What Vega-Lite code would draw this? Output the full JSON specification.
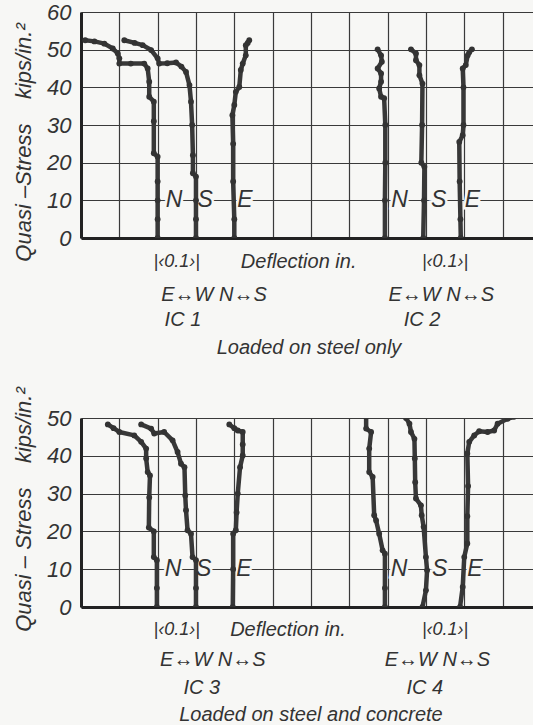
{
  "$schema": "https://vega.github.io/schema/vega-lite/v6.json",
  "background": "#f7f7f5",
  "padding": {"left": 11, "top": 1, "right": 0, "bottom": 0},
  "bounds": "flush",
  "spacing": 180,
  "config": {
    "view": {"stroke": null},
    "font": "Liberation Sans",
    "axis": {
      "gridColor": "#3a3a3a", "gridWidth": 1.2, "gridOpacity": 1,
      "domainColor": "#222", "domainWidth": 3, "ticks": false,
      "labelOverlap": false, "labelFlush": false, "labelBound": false,
      "labelFont": "Liberation Sans", "labelFontSize": 22, "labelFontStyle": "italic", "labelColor": "#333",
      "titleFont": "Liberation Sans", "titleFontSize": 22, "titleFontStyle": "italic", "titleFontWeight": "normal", "titleColor": "#333"
    },
    "axisY": {"labelOverlap": false},
    "axisLeft": {"labelOverlap": false},
    "axisQuantitative": {"labelOverlap": false}
  },
  "datasets": {
    "curves": [
      {"p":"top","c":"A","i":0,"d":0.011,"s":52.5},{"p":"top","c":"A","i":1,"d":0.035,"s":52.2},{"p":"top","c":"A","i":2,"d":0.061,"s":51.6},{"p":"top","c":"A","i":3,"d":0.083,"s":50.3},{"p":"top","c":"A","i":4,"d":0.096,"s":49},{"p":"top","c":"A","i":5,"d":0.1,"s":47.7},{"p":"top","c":"A","i":6,"d":0.1,"s":46.3},{"p":"top","c":"A","i":7,"d":0.13,"s":46.3},{"p":"top","c":"A","i":8,"d":0.165,"s":46.3},{"p":"top","c":"A","i":9,"d":0.174,"s":45},{"p":"top","c":"A","i":10,"d":0.178,"s":41.5},{"p":"top","c":"A","i":11,"d":0.178,"s":37.5},{"p":"top","c":"A","i":12,"d":0.19,"s":36.2},{"p":"top","c":"A","i":13,"d":0.19,"s":31},{"p":"top","c":"A","i":14,"d":0.19,"s":22.5},{"p":"top","c":"A","i":15,"d":0.2,"s":21.6},{"p":"top","c":"A","i":16,"d":0.2,"s":15},{"p":"top","c":"A","i":17,"d":0.2,"s":10},{"p":"top","c":"A","i":18,"d":0.2,"s":5},{"p":"top","c":"A","i":19,"d":0.2,"s":0},
      {"p":"top","c":"B","i":0,"d":0.113,"s":52.5},{"p":"top","c":"B","i":1,"d":0.14,"s":51.8},{"p":"top","c":"B","i":2,"d":0.161,"s":51.2},{"p":"top","c":"B","i":3,"d":0.183,"s":49.9},{"p":"top","c":"B","i":4,"d":0.2,"s":47.7},{"p":"top","c":"B","i":5,"d":0.204,"s":46.3},{"p":"top","c":"B","i":6,"d":0.225,"s":46.4},{"p":"top","c":"B","i":7,"d":0.248,"s":46.6},{"p":"top","c":"B","i":8,"d":0.262,"s":45.5},{"p":"top","c":"B","i":9,"d":0.274,"s":44.1},{"p":"top","c":"B","i":10,"d":0.283,"s":40.6},{"p":"top","c":"B","i":11,"d":0.287,"s":36.2},{"p":"top","c":"B","i":12,"d":0.29,"s":30},{"p":"top","c":"B","i":13,"d":0.292,"s":22},{"p":"top","c":"B","i":14,"d":0.292,"s":17.2},{"p":"top","c":"B","i":15,"d":0.3,"s":16.3},{"p":"top","c":"B","i":16,"d":0.3,"s":10},{"p":"top","c":"B","i":17,"d":0.3,"s":5},{"p":"top","c":"B","i":18,"d":0.3,"s":0},
      {"p":"top","c":"C","i":0,"d":0.439,"s":52.5},{"p":"top","c":"C","i":1,"d":0.435,"s":51.8},{"p":"top","c":"C","i":2,"d":0.43,"s":51.2},{"p":"top","c":"C","i":3,"d":0.43,"s":48.5},{"p":"top","c":"C","i":4,"d":0.422,"s":46.3},{"p":"top","c":"C","i":5,"d":0.417,"s":44.6},{"p":"top","c":"C","i":6,"d":0.413,"s":40.1},{"p":"top","c":"C","i":7,"d":0.404,"s":38.8},{"p":"top","c":"C","i":8,"d":0.4,"s":35.3},{"p":"top","c":"C","i":9,"d":0.395,"s":32.6},{"p":"top","c":"C","i":10,"d":0.397,"s":25},{"p":"top","c":"C","i":11,"d":0.397,"s":15},{"p":"top","c":"C","i":12,"d":0.4,"s":5},{"p":"top","c":"C","i":13,"d":0.4,"s":0},
      {"p":"top","c":"D","i":0,"d":0.774,"s":50.1},{"p":"top","c":"D","i":1,"d":0.783,"s":48.5},{"p":"top","c":"D","i":2,"d":0.785,"s":46.8},{"p":"top","c":"D","i":3,"d":0.774,"s":45},{"p":"top","c":"D","i":4,"d":0.783,"s":43.7},{"p":"top","c":"D","i":5,"d":0.783,"s":41.5},{"p":"top","c":"D","i":6,"d":0.778,"s":39.7},{"p":"top","c":"D","i":7,"d":0.783,"s":37.5},{"p":"top","c":"D","i":8,"d":0.791,"s":37.1},{"p":"top","c":"D","i":9,"d":0.794,"s":30},{"p":"top","c":"D","i":10,"d":0.794,"s":20},{"p":"top","c":"D","i":11,"d":0.793,"s":10},{"p":"top","c":"D","i":12,"d":0.793,"s":0},
      {"p":"top","c":"E","i":0,"d":0.861,"s":50.1},{"p":"top","c":"E","i":1,"d":0.874,"s":49},{"p":"top","c":"E","i":2,"d":0.874,"s":47.2},{"p":"top","c":"E","i":3,"d":0.883,"s":45.9},{"p":"top","c":"E","i":4,"d":0.883,"s":43.2},{"p":"top","c":"E","i":5,"d":0.891,"s":41},{"p":"top","c":"E","i":6,"d":0.89,"s":30},{"p":"top","c":"E","i":7,"d":0.888,"s":20},{"p":"top","c":"E","i":8,"d":0.896,"s":18.9},{"p":"top","c":"E","i":9,"d":0.895,"s":10},{"p":"top","c":"E","i":10,"d":0.893,"s":0},
      {"p":"top","c":"F","i":0,"d":1.02,"s":50.1},{"p":"top","c":"F","i":1,"d":1.013,"s":49.3},{"p":"top","c":"F","i":2,"d":1.009,"s":48.5},{"p":"top","c":"F","i":3,"d":1.004,"s":45.9},{"p":"top","c":"F","i":4,"d":0.996,"s":45},{"p":"top","c":"F","i":5,"d":0.998,"s":40},{"p":"top","c":"F","i":6,"d":0.998,"s":30},{"p":"top","c":"F","i":7,"d":0.996,"s":27.3},{"p":"top","c":"F","i":8,"d":0.987,"s":25.5},{"p":"top","c":"F","i":9,"d":0.988,"s":15},{"p":"top","c":"F","i":10,"d":0.99,"s":5},{"p":"top","c":"F","i":11,"d":0.991,"s":0},
      {"p":"bot","c":"G","i":0,"d":0.07,"s":48.3},{"p":"bot","c":"G","i":1,"d":0.085,"s":47.3},{"p":"bot","c":"G","i":2,"d":0.1,"s":46.3},{"p":"bot","c":"G","i":3,"d":0.139,"s":45.4},{"p":"bot","c":"G","i":4,"d":0.157,"s":43.7},{"p":"bot","c":"G","i":5,"d":0.17,"s":41.9},{"p":"bot","c":"G","i":6,"d":0.17,"s":39.3},{"p":"bot","c":"G","i":7,"d":0.174,"s":35.7},{"p":"bot","c":"G","i":8,"d":0.18,"s":34.8},{"p":"bot","c":"G","i":9,"d":0.178,"s":29},{"p":"bot","c":"G","i":10,"d":0.177,"s":21},{"p":"bot","c":"G","i":11,"d":0.19,"s":20},{"p":"bot","c":"G","i":12,"d":0.19,"s":13.2},{"p":"bot","c":"G","i":13,"d":0.198,"s":12.4},{"p":"bot","c":"G","i":14,"d":0.198,"s":5},{"p":"bot","c":"G","i":15,"d":0.198,"s":0},
      {"p":"bot","c":"H","i":0,"d":0.157,"s":48.3},{"p":"bot","c":"H","i":1,"d":0.183,"s":47.2},{"p":"bot","c":"H","i":2,"d":0.191,"s":45.9},{"p":"bot","c":"H","i":3,"d":0.217,"s":46.3},{"p":"bot","c":"H","i":4,"d":0.239,"s":44.1},{"p":"bot","c":"H","i":5,"d":0.252,"s":41},{"p":"bot","c":"H","i":6,"d":0.261,"s":37.9},{"p":"bot","c":"H","i":7,"d":0.27,"s":37},{"p":"bot","c":"H","i":8,"d":0.272,"s":29.5},{"p":"bot","c":"H","i":9,"d":0.274,"s":25.6},{"p":"bot","c":"H","i":10,"d":0.278,"s":20.3},{"p":"bot","c":"H","i":11,"d":0.287,"s":19.4},{"p":"bot","c":"H","i":12,"d":0.291,"s":13.2},{"p":"bot","c":"H","i":13,"d":0.3,"s":12.4},{"p":"bot","c":"H","i":14,"d":0.3,"s":5},{"p":"bot","c":"H","i":15,"d":0.3,"s":0},
      {"p":"bot","c":"I","i":0,"d":0.387,"s":48.3},{"p":"bot","c":"I","i":1,"d":0.4,"s":47.3},{"p":"bot","c":"I","i":2,"d":0.409,"s":46.7},{"p":"bot","c":"I","i":3,"d":0.422,"s":46.3},{"p":"bot","c":"I","i":4,"d":0.422,"s":43},{"p":"bot","c":"I","i":5,"d":0.422,"s":40.1},{"p":"bot","c":"I","i":6,"d":0.415,"s":37},{"p":"bot","c":"I","i":7,"d":0.409,"s":30},{"p":"bot","c":"I","i":8,"d":0.406,"s":25},{"p":"bot","c":"I","i":9,"d":0.404,"s":20.3},{"p":"bot","c":"I","i":10,"d":0.397,"s":19.4},{"p":"bot","c":"I","i":11,"d":0.397,"s":10},{"p":"bot","c":"I","i":12,"d":0.396,"s":0},
      {"p":"bot","c":"J","i":0,"d":0.722,"s":51.8},{"p":"bot","c":"J","i":1,"d":0.735,"s":50.9},{"p":"bot","c":"J","i":2,"d":0.744,"s":50.3},{"p":"bot","c":"J","i":3,"d":0.744,"s":47.2},{"p":"bot","c":"J","i":4,"d":0.757,"s":46.3},{"p":"bot","c":"J","i":5,"d":0.752,"s":41.9},{"p":"bot","c":"J","i":6,"d":0.752,"s":35.7},{"p":"bot","c":"J","i":7,"d":0.761,"s":34.4},{"p":"bot","c":"J","i":8,"d":0.765,"s":24.3},{"p":"bot","c":"J","i":9,"d":0.77,"s":22.9},{"p":"bot","c":"J","i":10,"d":0.778,"s":19.4},{"p":"bot","c":"J","i":11,"d":0.787,"s":15},{"p":"bot","c":"J","i":12,"d":0.793,"s":14.1},{"p":"bot","c":"J","i":13,"d":0.793,"s":5},{"p":"bot","c":"J","i":14,"d":0.793,"s":0},
      {"p":"bot","c":"K","i":0,"d":0.83,"s":51.6},{"p":"bot","c":"K","i":1,"d":0.848,"s":50},{"p":"bot","c":"K","i":2,"d":0.857,"s":48.5},{"p":"bot","c":"K","i":3,"d":0.861,"s":46.3},{"p":"bot","c":"K","i":4,"d":0.87,"s":44.5},{"p":"bot","c":"K","i":5,"d":0.871,"s":39.3},{"p":"bot","c":"K","i":6,"d":0.872,"s":33},{"p":"bot","c":"K","i":7,"d":0.874,"s":28.7},{"p":"bot","c":"K","i":8,"d":0.887,"s":26.9},{"p":"bot","c":"K","i":9,"d":0.889,"s":24.3},{"p":"bot","c":"K","i":10,"d":0.894,"s":21.2},{"p":"bot","c":"K","i":11,"d":0.9,"s":13.2},{"p":"bot","c":"K","i":12,"d":0.903,"s":9.7},{"p":"bot","c":"K","i":13,"d":0.9,"s":4.4},{"p":"bot","c":"K","i":14,"d":0.891,"s":0},
      {"p":"bot","c":"L","i":0,"d":0.989,"s":0},{"p":"bot","c":"L","i":1,"d":0.996,"s":5.3},{"p":"bot","c":"L","i":2,"d":1.0,"s":13.2},{"p":"bot","c":"L","i":3,"d":1.008,"s":16.8},{"p":"bot","c":"L","i":4,"d":1.008,"s":24},{"p":"bot","c":"L","i":5,"d":1.01,"s":32},{"p":"bot","c":"L","i":6,"d":1.008,"s":40.6},{"p":"bot","c":"L","i":7,"d":1.013,"s":43.7},{"p":"bot","c":"L","i":8,"d":1.026,"s":45.4},{"p":"bot","c":"L","i":9,"d":1.039,"s":46.5},{"p":"bot","c":"L","i":10,"d":1.061,"s":46.3},{"p":"bot","c":"L","i":11,"d":1.078,"s":46.7},{"p":"bot","c":"L","i":12,"d":1.087,"s":48.5},{"p":"bot","c":"L","i":13,"d":1.113,"s":49.8},{"p":"bot","c":"L","i":14,"d":1.13,"s":50.3},{"p":"bot","c":"L","i":15,"d":1.152,"s":50.7},{"p":"bot","c":"L","i":16,"d":1.182,"s":51.2},{"p":"bot","c":"L","i":17,"d":1.2,"s":51.4}
    ],
    "letters": [
      {"p":"top","d":0.243,"s":10,"t":"N"},{"p":"top","d":0.324,"s":10,"t":"S"},{"p":"top","d":0.428,"s":10,"t":"E"},
      {"p":"top","d":0.831,"s":10,"t":"N"},{"p":"top","d":0.933,"s":10,"t":"S"},{"p":"top","d":1.021,"s":10,"t":"E"},
      {"p":"bot","d":0.24,"s":10,"t":"N"},{"p":"bot","d":0.32,"s":10,"t":"S"},{"p":"bot","d":0.425,"s":10,"t":"E"},
      {"p":"bot","d":0.83,"s":10,"t":"N"},{"p":"bot","d":0.936,"s":10,"t":"S"},{"p":"bot","d":1.028,"s":10,"t":"E"}
    ],
    "scalebars": [
      {"p":"top","d":0.25,"s":-6.4,"t":"|‹0.1›|"},{"p":"top","d":0.95,"s":-6.4,"t":"|‹0.1›|"},
      {"p":"bot","d":0.25,"s":-6.1,"t":"|‹0.1›|"},{"p":"bot","d":0.95,"s":-6.1,"t":"|‹0.1›|"}
    ],
    "notes": [
      {"p":"top","d":0.568,"s":-6.4,"t":"Deflection  in."},
      {"p":"top","d":0.347,"s":-15.1,"t":"E↔W N↔S"},{"p":"top","d":0.94,"s":-15.1,"t":"E↔W N↔S"},
      {"p":"top","d":0.266,"s":-21.8,"t":"IC 1"},{"p":"top","d":0.89,"s":-21.8,"t":"IC 2"},
      {"p":"top","d":0.595,"s":-29.2,"t":"Loaded on steel only"},
      {"p":"bot","d":0.54,"s":-6.1,"t":"Deflection  in."},
      {"p":"bot","d":0.344,"s":-14.0,"t":"E↔W N↔S"},{"p":"bot","d":0.93,"s":-14.0,"t":"E↔W N↔S"},
      {"p":"bot","d":0.315,"s":-21.4,"t":"IC 3"},{"p":"bot","d":0.897,"s":-21.4,"t":"IC 4"},
      {"p":"bot","d":0.6,"s":-28.5,"t":"Loaded on steel and concrete"}
    ]
  },
  "vconcat": [
    {
      "width": 453, "height": 226,
      "encoding": {
        "x": {"field": "d", "type": "quantitative", "scale": {"domain": [0, 1.182], "nice": false, "zero": false},
              "axis": {"values": [0,0.1,0.2,0.3,0.4,0.5,0.6,0.7,0.8,0.9,1.0,1.1], "labels": false, "title": null, "grid": true}},
        "y": {"field": "s", "type": "quantitative", "scale": {"domain": [0, 60], "nice": false},
              "axis": {"values": [0,10,20,30,40,50,60], "grid": true, "labelPadding": 10, "labelBaseline": "middle", "labelOverlap": false, "labelFlush": false, "labelBound": false,
                       "title": "Quasi –Stress\u00a0\u00a0\u00a0\u00a0kips/in.²", "titleAngle": 270, "titleAlign": "center", "titleBaseline": "middle", "titleX": -58, "titleY": 130}}
      },
      "layer": [
        {
          "data": {"name": "letters"},
          "transform": [{"filter": "datum.p === 'top'"}],
          "mark": {"type": "text", "fontSize": 23, "fontStyle": "italic", "color": "#f7f7f5", "stroke": "#f7f7f5", "strokeWidth": 5, "baseline": "middle"},
          "encoding": {"text": {"field": "t"}}
        },
        {
          "data": {"name": "curves"},
          "transform": [{"filter": "datum.p === 'top'"}],
          "mark": {"type": "line", "color": "#383838", "strokeWidth": 4.5, "strokeJoin": "round", "strokeCap": "round", "clip": true},
          "encoding": {"detail": {"field": "c"}, "order": {"field": "i", "type": "quantitative"}}
        },
        {
          "data": {"name": "curves"},
          "transform": [{"filter": "datum.p === 'top'"}],
          "mark": {"type": "circle", "color": "#333", "size": 34, "opacity": 1, "clip": true}
        },
        {
          "data": {"name": "letters"},
          "transform": [{"filter": "datum.p === 'top'"}],
          "mark": {"type": "text", "fontSize": 23, "fontStyle": "italic", "color": "#333", "baseline": "middle"},
          "encoding": {"text": {"field": "t"}}
        },
        {
          "data": {"name": "scalebars"},
          "transform": [{"filter": "datum.p === 'top'"}],
          "mark": {"type": "text", "fontSize": 18, "fontStyle": "italic", "color": "#333", "baseline": "middle"},
          "encoding": {"text": {"field": "t"}}
        },
        {
          "data": {"name": "notes"},
          "transform": [{"filter": "datum.p === 'top'"}],
          "mark": {"type": "text", "fontSize": 20, "fontStyle": "italic", "color": "#333", "baseline": "middle"},
          "encoding": {"text": {"field": "t"}}
        },
        {
          "data": {"values": [{}]},
          "mark": {"type": "rule", "color": "#2a2a2a", "strokeWidth": 2},
          "encoding": {"x": null, "y": {"datum": 60}}
        }
      ]
    },
    {
      "width": 453, "height": 189,
      "encoding": {
        "x": {"field": "d", "type": "quantitative", "scale": {"domain": [0, 1.182], "nice": false, "zero": false},
              "axis": {"values": [0,0.1,0.2,0.3,0.4,0.5,0.6,0.7,0.8,0.9,1.0,1.1], "labels": false, "title": null, "grid": true}},
        "y": {"field": "s", "type": "quantitative", "scale": {"domain": [0, 50], "nice": false},
              "axis": {"values": [0,10,20,30,40,50], "grid": true, "labelPadding": 10, "labelBaseline": "middle", "labelOverlap": false, "labelFlush": false, "labelBound": false,
                       "title": "Quasi – Stress\u00a0\u00a0\u00a0\u00a0kips/in.²", "titleAngle": 270, "titleAlign": "center", "titleBaseline": "middle", "titleX": -58, "titleY": 91}}
      },
      "layer": [
        {
          "data": {"name": "letters"},
          "transform": [{"filter": "datum.p === 'bot'"}],
          "mark": {"type": "text", "fontSize": 23, "fontStyle": "italic", "color": "#f7f7f5", "stroke": "#f7f7f5", "strokeWidth": 5, "baseline": "middle"},
          "encoding": {"text": {"field": "t"}}
        },
        {
          "data": {"name": "curves"},
          "transform": [{"filter": "datum.p === 'bot'"}],
          "mark": {"type": "line", "color": "#383838", "strokeWidth": 4.5, "strokeJoin": "round", "strokeCap": "round", "clip": true},
          "encoding": {"detail": {"field": "c"}, "order": {"field": "i", "type": "quantitative"}}
        },
        {
          "data": {"name": "curves"},
          "transform": [{"filter": "datum.p === 'bot'"}],
          "mark": {"type": "circle", "color": "#333", "size": 34, "opacity": 1, "clip": true}
        },
        {
          "data": {"name": "letters"},
          "transform": [{"filter": "datum.p === 'bot'"}],
          "mark": {"type": "text", "fontSize": 23, "fontStyle": "italic", "color": "#333", "baseline": "middle"},
          "encoding": {"text": {"field": "t"}}
        },
        {
          "data": {"name": "scalebars"},
          "transform": [{"filter": "datum.p === 'bot'"}],
          "mark": {"type": "text", "fontSize": 18, "fontStyle": "italic", "color": "#333", "baseline": "middle"},
          "encoding": {"text": {"field": "t"}}
        },
        {
          "data": {"name": "notes"},
          "transform": [{"filter": "datum.p === 'bot'"}],
          "mark": {"type": "text", "fontSize": 20, "fontStyle": "italic", "color": "#333", "baseline": "middle"},
          "encoding": {"text": {"field": "t"}}
        },
        {
          "data": {"values": [{}]},
          "mark": {"type": "rule", "color": "#2a2a2a", "strokeWidth": 2},
          "encoding": {"x": null, "y": {"datum": 50}}
        }
      ]
    }
  ]
}
